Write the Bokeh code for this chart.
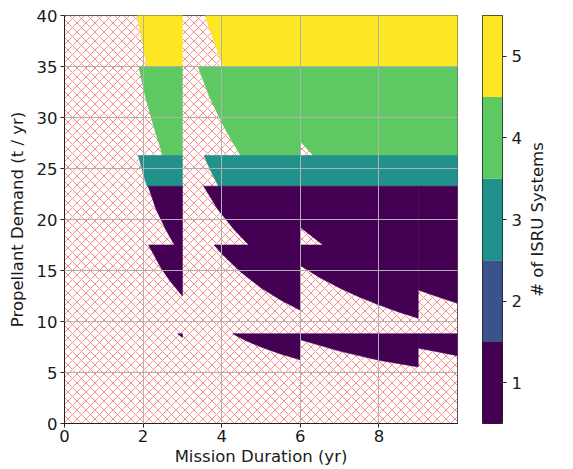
from bokeh.plotting import figure
from bokeh.layouts import row
from bokeh.models import Range1d, FixedTicker, LinearAxis
from bokeh.embed import file_html
from bokeh.resources import INLINE

# ---- data ----
duration_limits = [0, 10]            # Mission Duration (yr)
demand_limits = [0, 40]              # Propellant Demand (t / yr)
duration_ticks = [0, 2, 4, 6, 8]
demand_ticks = [0, 5, 10, 15, 20, 25, 30, 35, 40]
system_counts = [1, 2, 3, 4, 5]
system_colors = ["#440154", "#3b528b", "#21918c", "#5ec962", "#fde725"]

# feasible regions: number of ISRU systems and traced outline (duration, demand)
region_systems = [5, 5, 4, 4, 3, 3, 1, 1, 1, 1, 1, 1, 1, 1]
region_duration = [
    [1.85, 3.0, 3.0, 2.10, 1.97],
    [3.57, 10.0, 10.0, 4.04, 3.80],
    [1.89, 3.0, 3.0, 2.50, 2.28, 2.06],
    [3.40, 10.0, 10.0, 6.33, 6.0, 6.0, 4.48, 4.07, 3.69],
    [1.88, 3.0, 3.0, 2.10, 1.98],
    [3.55, 10.0, 10.0, 3.92, 3.72],
    [2.13, 3.0, 3.0, 2.68, 2.45, 2.14, 2.80, 2.58, 2.33],
    [3.54, 6.0, 6.0, 5.5, 5.0, 4.47, 4.0, 3.81, 4.69, 4.32, 3.90],
    [6.0, 9.0, 9.0, 8.5, 8.0, 7.5, 7.0, 6.5, 6.0, 6.0, 6.58, 6.0],
    [9.0, 10.0, 10.0, 9.5, 9.0],
    [2.88, 3.0, 3.0],
    [4.28, 6.0, 6.0, 5.5, 5.0, 4.6],
    [6.0, 9.0, 9.0, 8.0, 7.0, 6.0],
    [9.0, 10.0, 10.0, 9.0],
]
region_demand = [
    [40, 40, 35, 35, 37.5],
    [40, 40, 35, 35, 37.5],
    [35, 35, 26.27, 26.27, 29, 32],
    [35, 35, 26.27, 26.27, 27.65, 26.27, 26.27, 29, 32],
    [26.27, 26.27, 23.27, 23.27, 24.77],
    [26.27, 26.27, 23.27, 23.27, 24.77],
    [23.27, 23.27, 12.5, 14.0, 15.3, 17.5, 17.5, 19.0, 21.0],
    [23.27, 23.27, 11.1, 12.1, 13.3, 14.9, 16.65, 17.5, 17.5, 19.0, 21.0],
    [23.27, 23.27, 10.33, 10.94, 11.63, 12.4, 13.29, 14.3, 15.5, 17.5, 17.5, 19.25],
    [23.27, 23.27, 11.8, 12.42, 13.1],
    [8.8, 8.8, 8.43],
    [8.8, 8.8, 6.25, 6.82, 7.5, 8.15],
    [8.8, 8.8, 5.55, 6.2, 7.1, 8.22],
    [8.8, 8.8, 6.65, 7.39],
]

FONT = "DejaVu Sans"
FS = "16.5px"
INK = "#1a1a1a"

p = figure(frame_width=393, frame_height=408,
           x_range=Range1d(*duration_limits), y_range=Range1d(*demand_limits),
           output_backend="svg", toolbar_location=None,
           min_border_left=64, min_border_right=13, min_border_top=15, min_border_bottom=46)

# infeasible background (hatched)
p.quad(left=[duration_limits[0]], right=[duration_limits[1]],
       bottom=[demand_limits[0]], top=[demand_limits[1]],
       fill_color="white", line_color=None,
       hatch_pattern="diagonal_cross", hatch_color="red", hatch_alpha=0.45,
       hatch_scale=9, hatch_weight=1)

region_colors = [system_colors[system_counts.index(n)] for n in region_systems]
p.patches(xs=region_duration, ys=region_demand, fill_color=region_colors,
          line_color=region_colors, line_width=0.6)

p.grid.grid_line_color = "#b0b0b0"
p.grid.grid_line_width = 1
p.grid.level = "overlay"

p.xaxis.ticker = FixedTicker(ticks=duration_ticks)
p.yaxis.ticker = FixedTicker(ticks=demand_ticks)
p.xaxis.axis_label = "Mission Duration (yr)"
p.yaxis.axis_label = "Propellant Demand (t / yr)"
for ax in (p.xaxis, p.yaxis):
    ax.axis_label_text_font = FONT
    ax.axis_label_text_font_size = FS
    ax.axis_label_text_font_style = "normal"
    ax.axis_label_text_color = INK
    ax.major_label_text_font = FONT
    ax.major_label_text_font_size = FS
    ax.major_label_text_color = INK
    ax.major_tick_out = 4
    ax.major_tick_in = 0
    ax.minor_tick_out = 0
    ax.minor_tick_in = 0
    ax.axis_line_color = "#222222"
    ax.major_tick_line_color = "#222222"
p.xaxis.major_label_standoff = 2
p.xaxis.axis_label_standoff = 2
p.yaxis.major_label_standoff = 3
p.yaxis.axis_label_standoff = 7
p.outline_line_color = "#222222"
p.outline_line_alpha = 1

# colorbar
cb = figure(frame_width=20, frame_height=408,
            x_range=Range1d(0, 1),
            y_range=Range1d(system_counts[0] - 0.5, system_counts[-1] + 0.5),
            output_backend="svg", toolbar_location=None,
            x_axis_location=None, y_axis_location=None,
            min_border_left=12, min_border_right=10, min_border_top=15, min_border_bottom=46)
cb.quad(left=0, right=1, bottom=[n - 0.5 for n in system_counts],
        top=[n + 0.5 for n in system_counts], fill_color=system_colors, line_color=None)
cb.grid.visible = False
cb.outline_line_color = "#222222"
cb.outline_line_alpha = 1
cax = LinearAxis(ticker=FixedTicker(ticks=system_counts))
cax.major_label_text_font = FONT
cax.major_label_text_font_size = FS
cax.major_label_text_color = INK
cax.major_tick_out = 4
cax.major_tick_in = 0
cax.minor_tick_out = 0
cax.minor_tick_in = 0
cax.axis_line_color = None
cax.major_tick_line_color = "#222222"
cax.major_label_standoff = 5
cb.add_layout(cax, "right")

# colorbar title (vertical text, reading upwards)
lab = figure(frame_width=1, frame_height=408, x_range=Range1d(0, 1), y_range=Range1d(0, 1),
             output_backend="svg", toolbar_location=None,
             x_axis_location=None, y_axis_location=None,
             min_border_left=10, min_border_right=5, min_border_top=15, min_border_bottom=46)
lab.grid.visible = False
lab.outline_line_color = None
lax = LinearAxis(ticker=FixedTicker(ticks=[]), axis_label="# of ISRU Systems")
lax.axis_label_text_font = FONT
lax.axis_label_text_font_size = FS
lax.axis_label_text_font_style = "normal"
lax.axis_label_text_color = INK
lax.axis_line_color = None
lax.major_tick_out = 0
lax.major_tick_in = 0
lax.minor_tick_out = 0
lax.minor_tick_in = 0
lax.major_label_standoff = 0
lax.axis_label_standoff = -6
lab.add_layout(lax, "left")

layout = row(p, cb, lab)
open("out.html", "w").write(file_html(layout, INLINE))
